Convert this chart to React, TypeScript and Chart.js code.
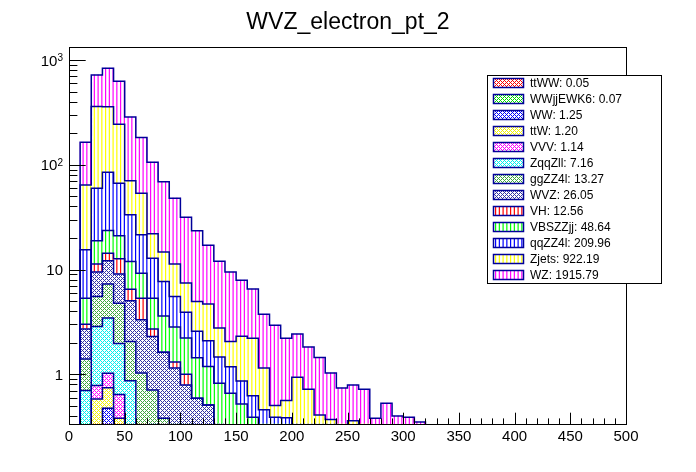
import React, { useEffect, useRef } from 'react';
import { Chart, registerables } from 'chart.js';

Chart.register(...registerables);

// ---------------- data ----------------
const TITLE = 'WVZ_electron_pt_2';

// lower edges of the 10 GeV bins (0 - 500)
const binLow = [
  0, 10, 20, 30, 40, 50, 60, 70, 80, 90,
  100, 110, 120, 130, 140, 150, 160, 170, 180, 190,
  200, 210, 220, 230, 240, 250, 260, 270, 280, 290,
  300, 310, 320, 330, 340, 350, 360, 370, 380, 390,
  400, 410, 420, 430, 440, 450, 460, 470, 480, 490,
];
const BIN_WIDTH = 10;

const ttWW = [
  0, 0, 0.01, 0.01, 0.01, 0.01, 0.01, 0, 0, 0,
  0, 0, 0, 0, 0, 0, 0, 0, 0, 0,
  0, 0, 0, 0, 0, 0, 0, 0, 0, 0,
  0, 0, 0, 0, 0, 0, 0, 0, 0, 0,
  0, 0, 0, 0, 0, 0, 0, 0, 0, 0,
];
const WWjjEWK6 = [
  0, 0.01, 0.02, 0.02, 0.01, 0.01, 0.01, 0, 0, 0,
  0, 0, 0, 0, 0, 0, 0, 0, 0, 0,
  0, 0, 0, 0, 0, 0, 0, 0, 0, 0,
  0, 0, 0, 0, 0, 0, 0, 0, 0, 0,
  0, 0, 0, 0, 0, 0, 0, 0, 0, 0,
];
const WW = [
  0, 0.08, 0.17, 0.445, 0.18, 0.15, 0.08, 0.04, 0, 0,
  0, 0, 0, 0, 0, 0, 0, 0, 0, 0,
  0, 0, 0, 0, 0, 0, 0, 0, 0, 0,
  0, 0, 0, 0, 0, 0, 0, 0, 0, 0,
  0, 0, 0, 0, 0, 0, 0, 0, 0, 0,
];
const ttW = [
  0, 0.12, 0.38, 0.27, 0.18, 0.1, 0.05, 0.04, 0, 0,
  0, 0, 0, 0, 0, 0, 0, 0, 0, 0,
  0, 0, 0, 0, 0, 0, 0, 0, 0, 0,
  0, 0, 0, 0, 0, 0, 0, 0, 0, 0,
  0, 0, 0, 0, 0, 0, 0, 0, 0, 0,
];
const VVV = [
  0, 0.06, 0.2, 0.28, 0.26, 0.05, 0.08, 0.05, 0.05, 0,
  0, 0, 0, 0, 0, 0, 0, 0, 0, 0,
  0, 0, 0, 0, 0, 0, 0, 0, 0, 0,
  0, 0, 0, 0, 0, 0, 0, 0, 0, 0,
  0, 0, 0, 0, 0, 0, 0, 0, 0, 0,
];
const ZqqZll = [
  0, 0.43, 2.08, 2.42, 1.33, 0.55, 0.1, 0.1, 0.05, 0,
  0, 0, 0, 0, 0, 0, 0, 0, 0, 0,
  0, 0, 0, 0, 0, 0, 0, 0, 0, 0,
  0, 0, 0, 0, 0, 0, 0, 0, 0, 0,
  0, 0, 0, 0, 0, 0, 0, 0, 0, 0,
];
const ggZZ4l = [
  0, 0.7, 2.67, 3.82, 2.8, 1.19, 0.7, 0.48, 0.28, 0.1,
  0.05, 0, 0, 0, 0, 0, 0, 0, 0, 0,
  0, 0, 0, 0, 0, 0, 0, 0, 0, 0,
  0, 0, 0, 0, 0, 0, 0, 0, 0, 0,
  0, 0, 0, 0, 0, 0, 0, 0, 0, 0,
];
const WVZ = [
  0, 1.3, 3.92, 4.84, 4.32, 2.97, 2.28, 1.59, 1.24, 1.05,
  0.74, 0.59, 0.51, 0.1, 0, 0, 0, 0, 0, 0,
  0, 0, 0, 0, 0, 0, 0, 0, 0, 0,
  0, 0, 0, 0, 0, 0, 0, 0, 0, 0,
  0, 0, 0, 0, 0, 0, 0, 0, 0, 0,
];
const VH = [
  0, 0.31, 1.85, 2.2, 3.6, 1.47, 2.02, 0.4, 0, 0.16,
  0.21, 0, 0, 0, 0, 0, 0, 0, 0, 0,
  0, 0, 0, 0, 0, 0, 0, 0, 0, 0,
  0, 0, 0, 0, 0, 0, 0, 0, 0, 0,
  0, 0, 0, 0, 0, 0, 0, 0, 0, 0,
];
const VBSZZjj = [
  0, 2.32, 7.5, 9.3, 8.3, 5.4, 3.9, 2.63, 1.98, 1.52,
  1.22, 0.85, 0.68, 0.72, 0.66, 0.52, 0.39, 0.1, 0.09, 0.05,
  0, 0, 0, 0, 0, 0, 0, 0, 0, 0,
  0, 0, 0, 0, 0, 0, 0, 0, 0, 0,
  0, 0, 0, 0, 0, 0, 0, 0, 0, 0,
];
const qqZZ4l = [
  0, 10.1, 41, 61, 45.7, 21.4, 12.3, 7.47, 4.1, 2.7,
  1.7, 1.14, 0.9, 0.64, 0.52, 0.344, 0.234, 0.358, 0.3, 0.335,
  0.1, 0.07, 0.05, 0.04, 0, 0, 0, 0, 0, 0,
  0, 0, 0, 0, 0, 0, 0, 0, 0, 0,
  0, 0, 0, 0, 0, 0, 0, 0, 0, 0,
];
const Zjets = [
  0, 48.6, 299, 274, 177, 37, 32, 9.1, 7.0, 5.77,
  3.5, 2.37, 2.59, 1.3, 0.88, 1.44, 1.59, 0.69, 0.115, 0.177,
  0.84, 0.65, 0.36, 0.33, 0.2, 0.36, 0.15, 0, 0, 0,
  0, 0, 0, 0, 0, 0, 0, 0, 0, 0,
  0, 0, 0, 0, 0, 0, 0, 0, 0, 0,
];
const WZ = [
  0, 100, 362, 477, 384, 215, 128, 84, 54, 36.7,
  24.2, 18.45, 12.4, 9.24, 7.39, 5.61, 4.29, 2.6, 2.44, 1.65,
  1.48, 1.1, 1.04, 0.66, 0.54, 0.43, 0.57, 0.38, 0.53, 0.4,
  0.39, 0.35, 0, 0, 0, 0, 0, 0, 0, 0,
  0, 0, 0, 0, 0, 0, 0, 0, 0, 0,
];

// stacking order: first = bottom
const seriesNames = ['ttWW', 'WWjjEWK6', 'WW', 'ttW', 'VVV', 'ZqqZll', 'ggZZ4l', 'WVZ', 'VH', 'VBSZZjj', 'qqZZ4l', 'Zjets', 'WZ'];
const seriesValues = [ttWW, WWjjEWK6, WW, ttW, VVV, ZqqZll, ggZZ4l, WVZ, VH, VBSZZjj, qqZZ4l, Zjets, WZ];
const legendTotals = ['0.05', '0.07', '1.25', '1.20', '1.14', '7.16', '13.27', '26.05', '12.56', '48.64', '209.96', '922.19', '1915.79'];

// axis ticks
const xTickLabels = [0, 50, 100, 150, 200, 250, 300, 350, 400, 450, 500];
const yMajorTicks = [1, 10, 100, 1000];
const yTickLabels = [
  { v: 1, base: '1', exp: '' },
  { v: 10, base: '10', exp: '' },
  { v: 100, base: '10', exp: '2' },
  { v: 1000, base: '10', exp: '3' },
];
const X_MIN = 0;
const X_MAX = 500;
const Y_MIN = 0.3356;
const Y_MAX = 1330;

// ---------------- styles ----------------
const fillColors = ['#ff0000', '#00dd00', '#0000ff', '#f2f200', '#ff00ff', '#00f0f0', '#40a840', '#3333a6',
  '#ff0000', '#00ff00', '#0000ff', '#ffff00', '#ff00ff'];
const fillKinds = ['cross', 'cross', 'cross', 'cross', 'cross', 'cross', 'cross', 'cross',
  'stripe', 'stripe', 'stripe', 'stripe', 'stripe'];
const OUTLINE = '#000099';
const FONT = '"Liberation Sans", Arial, Helvetica, sans-serif';

export default function App() {
  const ref = useRef<HTMLCanvasElement>(null);

  useEffect(() => {
    const canvas = ref.current;
    if (!canvas) return;
    const ctx = canvas.getContext('2d')!;

    const makeCross = (color: string) => {
      const t = document.createElement('canvas');
      t.width = 4; t.height = 4;
      const c = t.getContext('2d')!;
      c.fillStyle = '#ffffff'; c.fillRect(0, 0, 4, 4);
      c.fillStyle = color;
      const px = [[0, 0], [1, 1], [2, 2], [3, 3], [3, 1], [1, 3]];
      for (const [x, y] of px) c.fillRect(x, y, 1, 1);
      return ctx.createPattern(t, 'repeat')!;
    };
    const makeStripe = (color: string) => {
      const t = document.createElement('canvas');
      t.width = 15; t.height = 4;
      const c = t.getContext('2d')!;
      c.fillStyle = '#ffffff'; c.fillRect(0, 0, 15, 4);
      c.fillStyle = color;
      for (let i = 0; i < 4; i++) c.fillRect(i * 3.75, 0, 1.2, 4);
      return ctx.createPattern(t, 'repeat')!;
    };
    const patterns = fillColors.map((col, i) => (fillKinds[i] === 'cross' ? makeCross(col) : makeStripe(col)));

    const barSets: any[] = seriesValues.map((vals, i) => ({
      type: 'bar',
      label: seriesNames[i],
      data: vals.flatMap((v, k) => (v > 0 ? [{ x: binLow[k] + BIN_WIDTH / 2, y: v }] : [])),
      backgroundColor: patterns[i],
      borderWidth: 0,
      barPercentage: 1,
      categoryPercentage: 1,
      stack: 'hist',
      order: 10,
    }));

    // cumulative step outlines (ROOT-like histogram contours)
    const lineSets: any[] = seriesValues.map((_, i) => {
      const pts: { x: number; y: number }[] = [];
      binLow.forEach((lo, k) => {
        let s = 0;
        for (let j = 0; j <= i; j++) s += seriesValues[j][k];
        const y = s > 0 ? s : 1e-4;
        pts.push({ x: lo, y }, { x: lo + BIN_WIDTH, y });
      });
      return {
        type: 'line',
        label: 'outline ' + seriesNames[i],
        data: pts,
        borderColor: OUTLINE,
        borderWidth: 1.5,
        pointRadius: 0,
        fill: false,
        tension: 0,
        order: 0,
      };
    });

    const decor = {
      id: 'rootDecor',
      afterDatasetsDraw(chart: any) {
        const c = chart.ctx as CanvasRenderingContext2D;
        const { left, right, top, bottom } = chart.chartArea;
        const xs = chart.scales.x;
        const ys = chart.scales.y;
        c.save();
        // title
        c.fillStyle = '#000';
        c.font = `23px ${FONT}`;
        c.textAlign = 'center';
        c.textBaseline = 'alphabetic';
        c.fillText(TITLE, 348, 29);

        // frame
        c.strokeStyle = '#000';
        c.lineWidth = 1;
        c.strokeRect(left + 0.5, top + 0.5, right - left, bottom - top);

        // x ticks
        c.beginPath();
        for (let v = X_MIN; v <= X_MAX; v += 10) {
          const px = Math.round(xs.getPixelForValue(v)) + 0.5;
          const len = v % 50 === 0 ? 11.3 : 5.6;
          c.moveTo(px, bottom);
          c.lineTo(px, bottom - len);
        }
        // y ticks
        const decades = [0.1, 1, 10, 100, 1000];
        for (const d of decades) {
          for (let m = 1; m <= 9; m++) {
            const v = d * m;
            if (v < Y_MIN || v > Y_MAX) continue;
            const py = Math.round(ys.getPixelForValue(v)) + 0.5;
            const len = yMajorTicks.includes(Math.round(v * 1000) / 1000) ? 16.7 : 8.4;
            c.moveTo(left, py);
            c.lineTo(left + len, py);
          }
        }
        c.stroke();

        // x labels
        c.font = `15px ${FONT}`;
        c.textAlign = 'center';
        for (const v of xTickLabels) {
          c.fillText(String(v), xs.getPixelForValue(v), 441);
        }
        // y labels
        for (const t of yTickLabels) {
          const py = ys.getPixelForValue(t.v);
          const xr = left - 6;
          c.font = `10px ${FONT}`;
          const ew = t.exp ? c.measureText(t.exp).width : 0;
          if (t.exp) {
            c.textAlign = 'left';
            c.fillText(t.exp, xr - ew, py + 1);
          }
          c.font = `15px ${FONT}`;
          c.textAlign = 'right';
          c.fillText(t.base, xr - ew, py + 5.7);
        }

        // legend
        const lx = 487, ly = 75, lw = 175, lh = 208;
        c.fillStyle = '#fff';
        c.fillRect(lx, ly, lw, lh);
        c.strokeStyle = '#000';
        c.lineWidth = 1;
        c.strokeRect(lx + 0.5, ly + 0.5, lw - 1, lh);
        c.font = `12px ${FONT}`;
        c.textAlign = 'left';
        c.textBaseline = 'middle';
        seriesNames.forEach((name, i) => {
          const cy = 83.3 + 15.95 * i;
          c.fillStyle = patterns[i];
          c.fillRect(493, Math.round(cy - 5), 31, 10);
          c.strokeStyle = OUTLINE;
          c.lineWidth = 1.5;
          c.strokeRect(493.5, Math.round(cy - 5) + 0.5, 30, 9);
          c.fillStyle = '#000';
          c.fillText(`${name}: ${legendTotals[i]}`, 530, cy + 0.5);
        });
        c.restore();
      },
    };

    const chart = new Chart(ctx, {
      type: 'bar',
      data: { datasets: [...barSets, ...lineSets] },
      options: {
        animation: false,
        responsive: false,
        devicePixelRatio: 1,
        events: [],
        layout: { padding: { left: 69, top: 47, right: 70, bottom: 48 } },
        plugins: {
          legend: { display: false },
          tooltip: { enabled: false },
          title: { display: false },
        },
        scales: {
          x: { type: 'linear', min: X_MIN, max: X_MAX, display: false, offset: false, bounds: 'data' },
          y: { type: 'logarithmic', min: Y_MIN, max: Y_MAX, display: false, bounds: 'data', beginAtZero: false },
        },
      } as any,
      plugins: [decor],
    } as any);

    return () => chart.destroy();
  }, []);

  return (
    <div style={{ position: 'fixed', left: 0, top: 0, width: 696, height: 472, background: '#fff' }}>
      <canvas ref={ref} width={696} height={472} style={{ display: 'block', width: 696, height: 472 }} />
    </div>
  );
}
